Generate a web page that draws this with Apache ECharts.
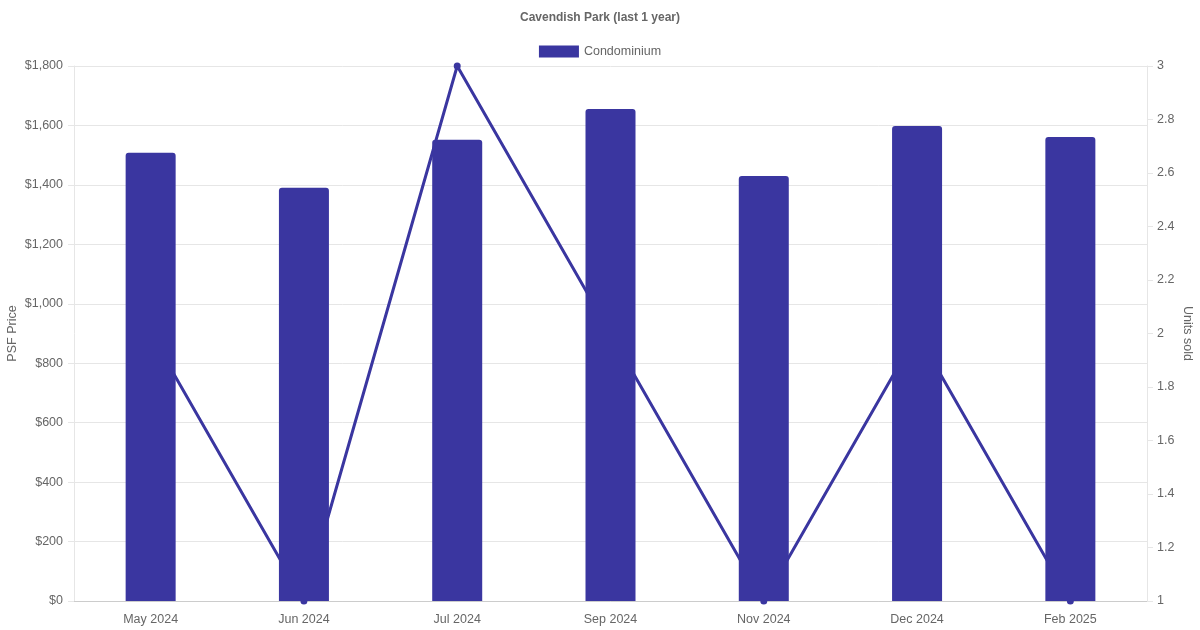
<html>
<head>
<meta charset="utf-8" />
<title>Cavendish Park</title>
<script src="https://cdn.jsdelivr.net/npm/echarts@6/dist/echarts.min.js"></script>
<style type="text/css">
html, body { margin: 0; padding: 0; background: #fff; }
#main { width: 1200px; height: 630px; }
</style>
</head>
<body>
<div id="main"></div>
<script type="text/javascript">
var months = ["May 2024", "Jun 2024", "Jul 2024", "Sep 2024", "Nov 2024", "Dec 2024", "Feb 2025"];
var psfPrice = [1508, 1390, 1552, 1655, 1430, 1598, 1561];
var unitsSold = [2, 1, 3, 2, 1, 2, 1];

var mainColor = "#3a36a0";
var textColor = "#666";
var gridColor = "#e6e6e6";

var myChart = echarts.init(document.getElementById("main"));

option = {
	backgroundColor: "#fff",
	textStyle: { fontFamily: "Liberation Sans, Arial, sans-serif" },
	title: {
		text: "Cavendish Park (last 1 year)",
		left: "center",
		top: 7,
		textStyle: { fontSize: 12, fontWeight: "bold", color: textColor }
	},
	legend: {
		data: ["Condominium"],
		top: 40,
		left: "center",
		itemWidth: 40,
		itemHeight: 12,
		icon: "rect",
		textStyle: { fontSize: 12.5, color: textColor }
	},
	grid: { left: 74, right: 53, top: 66, bottom: 29, containLabel: false, outerBoundsMode: "none" },
	xAxis: {
		type: "category",
		data: months,
		axisLine: { lineStyle: { color: "#ccc" } },
		axisTick: { show: false },
		axisLabel: { color: textColor, fontSize: 12.5, margin: 12 },
		splitLine: { show: false }
	},
	yAxis: [
		{
			type: "value",
			min: 0,
			max: 1800,
			interval: 200,
			name: "PSF Price",
			nameLocation: "middle",
			nameGap: 55,
			nameMoveOverlap: false,
			nameTextStyle: { color: textColor, fontSize: 12.5 },
			axisLine: { show: true, lineStyle: { color: gridColor } },
			axisTick: { show: true, length: 6, lineStyle: { color: gridColor } },
			axisLabel: {
				color: textColor,
				fontSize: 12.5,
				margin: 11,
				formatter: function (v) {
					return "$" + v.toLocaleString("en-US");
				}
			},
			splitLine: { lineStyle: { color: gridColor } }
		},
		{
			type: "value",
			min: 1,
			max: 3,
			interval: 0.2,
			position: "right",
			name: "Units sold",
			nameLocation: "middle",
			nameGap: 34,
			nameMoveOverlap: false,
			nameRotate: -90,
			nameTextStyle: { color: textColor, fontSize: 12.5 },
			axisLine: { show: true, lineStyle: { color: gridColor } },
			axisTick: { show: true, length: 6, lineStyle: { color: gridColor } },
			axisLabel: {
				color: textColor,
				fontSize: 12.5,
				margin: 10,
				formatter: function (v) {
					return String(Math.round(v * 10) / 10);
				}
			},
			splitLine: { show: false }
		}
	],
	series: [
		{
			name: "Units sold",
			type: "line",
			yAxisIndex: 1,
			data: unitsSold,
			z: 1,
			symbol: "circle",
			symbolSize: 7,
			lineStyle: { color: mainColor, width: 3 },
			itemStyle: { color: mainColor },
			animation: false
		},
		{
			name: "Condominium",
			type: "bar",
			yAxisIndex: 0,
			data: psfPrice,
			z: 3,
			barWidth: 50,
			itemStyle: { color: mainColor, borderRadius: [3, 3, 0, 0] },
			animation: false
		}
	]
};

myChart.setOption(option);
</script>
</body>
</html>
